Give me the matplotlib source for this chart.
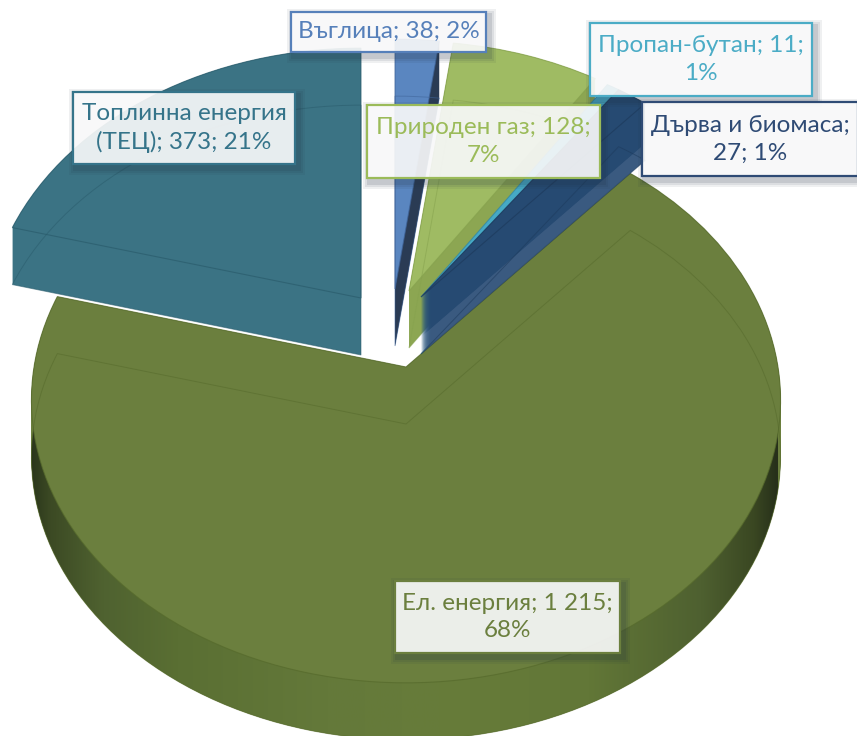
import matplotlib
matplotlib.use("Agg")
import matplotlib.pyplot as plt
import numpy as np
from matplotlib.colors import LinearSegmentedColormap
from matplotlib.patches import Rectangle
from matplotlib.transforms import Transform

plt.rcParams['font.family'] = ['Lato', 'DejaVu Sans']

# data
names = ["Въглица", "Природен газ", "Пропан-бутан", "Дърва и биомаса", "Ел. енергия", "Топлинна енергия (ТЕЦ)"]
values = [38, 128, 11, 27, 1215, 373]
label_texts = ["Въглица; 38; 2%", "Природен газ; 128;\n7%", "Пропан-бутан; 11;\n1%",
               "Дърва и биомаса;\n27; 1%", "Ел. енергия; 1 215;\n68%", "Топлинна енергия\n(ТЕЦ); 373; 21%"]

# styles
top_colors = ["#5a86c0", "#9fbb63", "#46a9c5", "#264a72", "#6b7f3e", "#3b7384"]
side_upper = ["#2a3b54", "#8ca652", "#3f98b2", "#264a72", "#6b7f3e", "#3b7384"]
side_lower = ["#2a3b54", "#8ca652", "#3f98b2", "#3a5a80", "#6b7f3e", "#3b7384"]
line_colors = ["#3f6499", "#86a24e", "#35879f", "#1d3a5c", "#566a2c", "#2a5c6c"]
text_colors = ["#5680ba", "#9bbb59", "#4bacc6", "#2f4b75", "#6b7f3e", "#35748a"]
zorders = [2, 3, 4, 5, 1, 2]
apex = [(395, 289), (409, 291), (421, 297), (421, 297), (406, 367), (361, 298)]
boxes = [(291, 12, 486, 52), (367, 105, 600, 178), (590, 23, 812, 96),
         (642, 102, 858, 176), (395, 581, 620, 653), (73, 92, 295, 164)]
depth = 57
n_layers = 58


class Persp(Transform):
    # pie unit circle -> tilted disc, in pixels
    input_dims = 2
    output_dims = 2

    def __init__(self, px, py):
        super().__init__()
        self.px = px
        self.py = py

    def transform_non_affine(self, values):
        v = np.asarray(values, dtype=float)
        w = 1 + 0.1166 * v[:, 1]
        return np.column_stack((self.px + 372 * v[:, 0] / w, self.py - 279 * v[:, 1] / w))


def draw_pie(dy, colors, z_add=0.0, **props):
    wedges, _ = ax.pie(values, startangle=90, counterclock=False, colors=colors, wedgeprops=props)
    for i, w in enumerate(wedges):
        w.set_transform(Persp(apex[i][0], apex[i][1] + dy) + ax.transData)
        w.set_zorder(zorders[i] + z_add)
    return wedges


fig = plt.figure(figsize=(8.57, 7.36), dpi=100)
ax = fig.add_axes([0, 0, 1, 1])

# side walls, stacked from the bottom up
for k in range(n_layers):
    dy = depth * (1 - k / (n_layers - 1))
    colors = side_lower if dy > 40 else side_upper
    bottom = draw_pie(dy, colors, z_add=k * 0.005, linewidth=0)
    if k == 0:
        el_bottom = bottom[4]

# front wall of the big slice has a horizontal shade
shade = LinearSegmentedColormap.from_list("shade", [
    (0.0, "#28331a"), (0.03, "#3c4a24"), (0.10, "#4f6230"), (0.20, "#5a6f33"),
    (0.40, "#64793a"), (0.55, "#677c3a"), (0.75, "#627737"), (0.90, "#4e6030"),
    (0.97, "#3a4722"), (1.0, "#27301a")])
im = ax.imshow(np.linspace(0, 1, 256).reshape(1, -1), cmap=shade, extent=(27, 778, 740, 380),
               aspect='auto', zorder=1.4)
im.set_clip_path(el_bottom)

# top faces
draw_pie(0, top_colors, z_add=0.5, linewidth=0)

# edges, the bottom ones show through the transparent top
for i, w in enumerate(draw_pie(depth, ['none'] * 6, z_add=0.6, fill=False, linewidth=0.7)):
    w.set_edgecolor(line_colors[i])
    w.set_alpha(0.55)
for i, w in enumerate(draw_pie(0, ['none'] * 6, z_add=0.7, fill=False, linewidth=0.8)):
    w.set_edgecolor(line_colors[i])
    w.set_alpha(0.7)

# labels
for i in range(len(values)):
    x0, y0, x1, y1 = boxes[i]
    for s, a in ((7, 0.07), (5, 0.09), (3, 0.12)):
        ax.add_patch(Rectangle((x0 - s + 3, y0 - s + 4), x1 - x0 + 2 * s, y1 - y0 + 2 * s,
                               facecolor="#203040", edgecolor='none', alpha=a, zorder=9))
    ax.add_patch(Rectangle((x0, y0), x1 - x0, y1 - y0, facecolor="white", alpha=0.89,
                           edgecolor='none', zorder=10))
    ax.add_patch(Rectangle((x0, y0), x1 - x0, y1 - y0, facecolor='none',
                           edgecolor=text_colors[i], linewidth=1.6, zorder=10.5))
    ax.text((x0 + x1) / 2, (y0 + y1) / 2, label_texts[i], ha='center', va='center',
            color=text_colors[i], fontsize=17.5, linespacing=1.4, zorder=11)

# pie() sets its own limits and aspect, put pixels back
ax.set_aspect('auto')
ax.set_xlim(0, 857)
ax.set_ylim(736, 0)
ax.axis('off')

fig.savefig("out.png", dpi=100)
